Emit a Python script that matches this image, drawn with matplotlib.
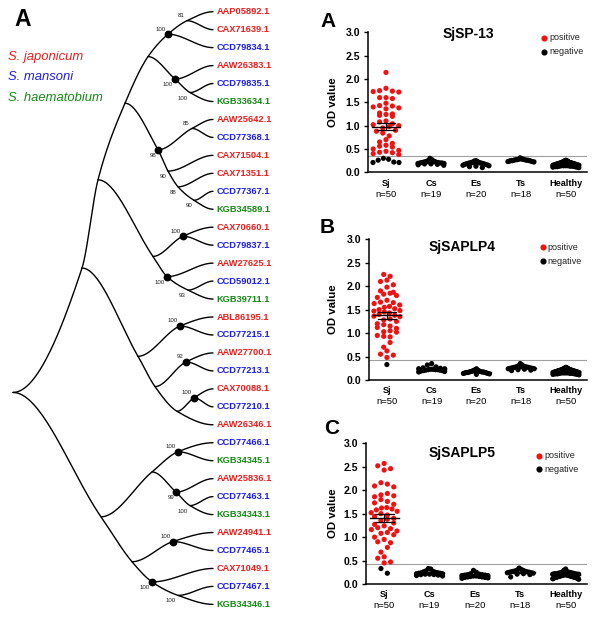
import numpy as np
import matplotlib
matplotlib.use("Agg")
import matplotlib.pyplot as plt
from matplotlib.lines import Line2D

plt.rcParams['font.family'] = ['Liberation Sans', 'DejaVu Sans']

# ---------------- data ----------------
SPECIES = ["S. japonicum", "S. mansoni", "S. haematobium"]
SPECIES_COLORS = ["#f01c1c", "#1c1cf0", "#138a13"]
PREFIX_SPECIES = {"AAP": 0, "AAW": 0, "ABL": 0, "CAX": 0, "CCD": 1, "KGB": 2}

# node = (bootstrap, height (0 = tips, 1 = root), marked, children); leaf = accession
TREE = (None, 1.00, False, [
    (None, 0.655, False, [
        (None, 0.575, False, [
            (None, 0.44, False, [
                (None, 0.325, False, [
                    ("100", 0.225, True, [("81", 0.13, False, ["AAP05892.1", "CAX71639.1"]), "CCD79834.1"]),
                    ("100", 0.19, True, ["AAW26383.1", ("100", 0.115, False, ["CCD79835.1", "KGB33634.1"])]),
                ]),
                ("98", 0.275, True, [
                    ("85", 0.105, False, ["AAW25642.1", "CCD77368.1"]),
                    ("90", 0.225, False, ["CAX71504.1",
                                          ("88", 0.175, False, ["CAX71351.1",
                                                                ("90", 0.095, False, ["CCD77367.1", "KGB34589.1"])])]),
                ]),
            ]),
            (None, 0.30, False, [
                ("100", 0.15, True, ["CAX70660.1", "CCD79837.1"]),
                ("100", 0.23, True, ["AAW27625.1", ("93", 0.125, False, ["CCD59012.1", "KGB39711.1"])]),
            ]),
        ]),
        (None, 0.375, False, [
            ("100", 0.165, True, ["ABL86195.1", "CCD77215.1"]),
            (None, 0.29, False, [
                ("92", 0.135, True, ["AAW27700.1", "CCD77213.1"]),
                (None, 0.18, False, [
                    ("100", 0.095, True, ["CAX70088.1", "CCD77210.1"]),
                    "AAW26346.1",
                ]),
            ]),
        ]),
    ]),
    (None, 0.56, False, [
        (None, 0.305, False, [
            ("100", 0.175, True, ["CCD77466.1", "KGB34345.1"]),
            ("99", 0.185, True, ["AAW25836.1", ("100", 0.115, False, ["CCD77463.1", "KGB34343.1"])]),
        ]),
        (None, 0.405, False, [
            ("100", 0.20, True, ["AAW24941.1", "CCD77465.1"]),
            ("100", 0.305, True, ["CAX71049.1", ("100", 0.175, False, ["CCD77467.1", "KGB34346.1"])]),
        ]),
    ]),
])

GROUPS = ["Sj", "Cs", "Es", "Ts", "Healthy"]
GROUP_N = [50, 19, 20, 18, 50]
PANEL_LETTERS = ["A", "B", "C"]
ANTIGENS = ["SjSP-13", "SjSAPLP4", "SjSAPLP5"]
CUTOFFS = [0.356, 0.425, 0.42]

SJ_A = [2.14, 1.80, 1.75, 1.74, 1.73, 1.72, 1.60, 1.58, 1.60, 1.48, 1.43, 1.42, 1.40, 1.38, 1.36,
        1.27, 1.25, 1.24, 1.22, 1.20, 1.10, 1.08, 1.04, 1.02, 1.00, 0.98, 0.95, 0.90, 0.88, 0.84,
        0.78, 0.70, 0.65, 0.62, 0.58, 0.56, 0.54, 0.50, 0.47, 0.45, 0.43, 0.42, 0.40, 0.38,
        0.30, 0.28, 0.26, 0.22, 0.21, 0.21]
CS_A = [0.30, 0.27, 0.25, 0.24, 0.23, 0.22, 0.22, 0.21, 0.21, 0.20, 0.20, 0.20, 0.19, 0.19, 0.18,
        0.18, 0.17, 0.16, 0.15]
ES_A = [0.25, 0.24, 0.23, 0.22, 0.21, 0.21, 0.20, 0.20, 0.19, 0.19, 0.18, 0.18, 0.17, 0.17, 0.16,
        0.15, 0.14, 0.13, 0.12, 0.10]
TS_A = [0.31, 0.29, 0.28, 0.28, 0.27, 0.27, 0.27, 0.26, 0.26, 0.26, 0.25, 0.25, 0.25, 0.24, 0.24,
        0.23, 0.23, 0.22]
HE_A = [0.26, 0.25, 0.25, 0.24, 0.24, 0.23, 0.23, 0.22, 0.22, 0.22, 0.21, 0.21, 0.21, 0.20, 0.20,
        0.20, 0.20, 0.19, 0.19, 0.19, 0.19, 0.18, 0.18, 0.18, 0.18, 0.17, 0.17, 0.17, 0.17, 0.16,
        0.16, 0.16, 0.16, 0.15, 0.15, 0.15, 0.15, 0.14, 0.14, 0.14, 0.14, 0.13, 0.13, 0.13, 0.12,
        0.12, 0.12, 0.11, 0.11, 0.10]

SJ_B = [2.25, 2.21, 2.13, 2.10, 2.03, 1.98, 1.90, 1.87, 1.85, 1.83, 1.80, 1.76, 1.70, 1.66, 1.65,
        1.63, 1.60, 1.57, 1.55, 1.52, 1.50, 1.48, 1.47, 1.45, 1.43, 1.40, 1.38, 1.36, 1.35, 1.30,
        1.28, 1.25, 1.20, 1.18, 1.15, 1.12, 1.10, 1.05, 1.03, 1.02, 0.95, 0.93, 0.92, 0.80, 0.70,
        0.62, 0.55, 0.53, 0.48, 0.33]
CS_B = [0.35, 0.32, 0.28, 0.26, 0.25, 0.24, 0.24, 0.23, 0.23, 0.22, 0.22, 0.22, 0.21, 0.21, 0.20,
        0.20, 0.19, 0.18, 0.17]
ES_B = [0.24, 0.22, 0.21, 0.20, 0.19, 0.19, 0.18, 0.18, 0.17, 0.17, 0.17, 0.16, 0.16, 0.16, 0.15,
        0.15, 0.14, 0.14, 0.13, 0.12]
TS_B = [0.35, 0.32, 0.30, 0.29, 0.28, 0.28, 0.27, 0.27, 0.26, 0.26, 0.25, 0.25, 0.24, 0.24, 0.23,
        0.22, 0.21, 0.20]
HE_B = [0.27, 0.26, 0.26, 0.25, 0.25, 0.24, 0.24, 0.23, 0.23, 0.23, 0.22, 0.22, 0.22, 0.21, 0.21,
        0.21, 0.21, 0.20, 0.20, 0.20, 0.20, 0.19, 0.19, 0.19, 0.19, 0.18, 0.18, 0.18, 0.18, 0.17,
        0.17, 0.17, 0.17, 0.16, 0.16, 0.16, 0.16, 0.15, 0.15, 0.15, 0.15, 0.14, 0.14, 0.14, 0.13,
        0.13, 0.13, 0.12, 0.12, 0.11]

SJ_C = [2.57, 2.52, 2.46, 2.43, 2.16, 2.13, 2.09, 2.07, 1.93, 1.90, 1.88, 1.86, 1.80, 1.76, 1.73,
        1.70, 1.63, 1.62, 1.60, 1.58, 1.55, 1.52, 1.50, 1.47, 1.44, 1.40, 1.38, 1.35, 1.30, 1.27,
        1.24, 1.20, 1.18, 1.16, 1.13, 1.10, 1.08, 1.05, 1.00, 0.95, 0.90, 0.88, 0.78, 0.68, 0.58,
        0.55, 0.47, 0.45, 0.33, 0.23]
CS_C = [0.33, 0.32, 0.28, 0.27, 0.26, 0.25, 0.24, 0.24, 0.23, 0.23, 0.22, 0.22, 0.21, 0.21, 0.20,
        0.20, 0.19, 0.18, 0.17]
ES_C = [0.29, 0.25, 0.22, 0.21, 0.20, 0.20, 0.19, 0.19, 0.18, 0.18, 0.17, 0.17, 0.16, 0.16, 0.15,
        0.15, 0.14, 0.14, 0.13, 0.12]
TS_C = [0.34, 0.31, 0.30, 0.29, 0.28, 0.27, 0.27, 0.26, 0.26, 0.25, 0.25, 0.24, 0.24, 0.23, 0.22,
        0.21, 0.20, 0.15]
HE_C = [0.32, 0.29, 0.26, 0.25, 0.25, 0.24, 0.24, 0.23, 0.23, 0.22, 0.22, 0.22, 0.21, 0.21, 0.21,
        0.20, 0.20, 0.20, 0.20, 0.19, 0.19, 0.19, 0.19, 0.18, 0.18, 0.18, 0.18, 0.17, 0.17, 0.17,
        0.17, 0.16, 0.16, 0.16, 0.16, 0.15, 0.15, 0.15, 0.15, 0.14, 0.14, 0.14, 0.14, 0.13, 0.13,
        0.13, 0.12, 0.12, 0.11, 0.10]

PANEL_DATA = [[SJ_A, CS_A, ES_A, TS_A, HE_A],
              [SJ_B, CS_B, ES_B, TS_B, HE_B],
              [SJ_C, CS_C, ES_C, TS_C, HE_C]]

# ---------------- figure ----------------
W, H = 600, 623
fig = plt.figure(figsize=(W / 100, H / 100), dpi=100)

def fx(x):
    return x / W

def fy(y):
    return 1 - y / H

# ================= tree =================
axT = fig.add_axes([0, 0, 0.5, 1])
axT.set_xlim(0, 300)
axT.set_ylim(H, 0)
axT.axis('off')

TIP_X, ROOT_X = 213.0, 13.0
LEAF_Y0, LEAF_DY = 11.7, 17.96


class Nd:
    def __init__(self, name=None, support=None, height=0.0, dot=False):
        self.name, self.support, self.height, self.dot = name, support, height, dot
        self.children = []
        self.parent = None


def build(t):
    if isinstance(t, str):
        return Nd(name=t)
    sup, h, dot, ch = t
    n = Nd(support=sup, height=h, dot=dot)
    n.children = [build(c) for c in ch]
    for c in n.children:
        c.parent = n
    return n


root = build(TREE)
leaves = []
internals = []


def assign(n):
    if n.name:
        n.x = TIP_X
        n.y = LEAF_Y0 + len(leaves) * LEAF_DY
        leaves.append(n)
    else:
        for c in n.children:
            assign(c)
        n.x = TIP_X - n.height * (TIP_X - ROOT_X)
        n.y = float(np.mean([c.y for c in n.children]))
        internals.append(n)


assign(root)

paths = []


def trace(parent, child):
    path = [parent, child]
    up = child.y < parent.y
    cur = child
    while cur.children:
        nxt = min(cur.children, key=lambda c: c.y) if up else max(cur.children, key=lambda c: c.y)
        for o in cur.children:
            if o is not nxt:
                trace(cur, o)
        path.append(nxt)
        cur = nxt
    paths.append(path)


for c in root.children:
    trace(root, c)


def smooth_path(xs, ys, m=40):
    xs = np.asarray(xs, float)
    ys = np.asarray(ys, float)
    n = len(xs)
    h = np.diff(xs)
    dl = np.diff(ys) / h
    d = np.zeros(n)
    for k in range(1, n - 1):
        if dl[k - 1] * dl[k] > 0:
            w1 = 2 * h[k] + h[k - 1]
            w2 = h[k] + 2 * h[k - 1]
            d[k] = (w1 + w2) / (w1 / dl[k - 1] + w2 / dl[k])
    X, Y = [], []
    t = np.linspace(0, 1, m)
    h00 = 2 * t**3 - 3 * t**2 + 1
    h10 = t**3 - 2 * t**2 + t
    h01 = -2 * t**3 + 3 * t**2
    h11 = t**3 - t**2
    for k in range(n - 1):
        X.append(xs[k] + t * h[k])
        Y.append(h00 * ys[k] + h10 * h[k] * d[k] + h01 * ys[k + 1] + h11 * h[k] * d[k + 1])
    return np.concatenate(X), np.concatenate(Y)


for p in paths:
    X, Y = smooth_path([q.x for q in p], [q.y for q in p])
    axT.plot(X, Y, color='black', lw=1.0, solid_capstyle='round', zorder=2)

for n in internals:
    if n.dot:
        axT.plot(n.x, n.y, 'o', color='black', ms=4.6, zorder=3)
    if n.support:
        if n.y < n.parent.y:
            axT.text(n.x - 2.5, n.y - 5.0, n.support, ha='right', va='center', fontsize=4.4, color='#222222')
        else:
            axT.text(n.x - 2.0, n.y + 5.5, n.support, ha='right', va='center', fontsize=4.4, color='#222222')

for lf in leaves:
    col = SPECIES_COLORS[PREFIX_SPECIES[lf.name[:3]]]
    axT.text(lf.x + 3.5, lf.y, lf.name, ha='left', va='center', fontsize=6.7,
             fontweight='bold', color=col)

for i, (sp, col) in enumerate(zip(SPECIES, SPECIES_COLORS)):
    axT.text(8, 57 + i * 20.5, sp, ha='left', va='center', fontsize=9.4, style='italic', color=col)

fig.text(fx(23), fy(19), "A", ha='center', va='center', fontsize=16.5, fontweight='bold')

# ================= dot plots =================
PANEL_BOX = [(368, 32.3, 587, 172.3), (369, 239.3, 587, 380.0), (366, 443.3, 587, 584.0)]
TITLE_POS = [(468, 34.3), (462, 247.0), (462, 452.7)]
LETTER_POS = [(328, 21.5), (327, 228), (332, 428)]
LEGEND_POS = [(544, 38, 52), (542.7, 247.3, 261), (539, 455.7, 469.3)]
XMIN, XMAX = -0.4, 4.47
ROW_H = 5.2      # px height of a scatter row
COL_GAP = 6.4    # px horizontal spacing of points in a row
HALF_W = 13.0    # px maximum half-width of a column
RED = "#f21010"


def row_scatter(vals, sx, sy):
    """Prism-style column scatter: points of similar value share a row and are spread sideways."""
    vals = np.asarray(vals, float)
    order = np.argsort(-vals, kind='stable')
    offs = np.zeros(len(vals))
    rows = []
    cur = []
    top = None
    for i in order:
        y = vals[i] * sy
        if top is None or top - y < ROW_H:
            if top is None:
                top = y
            cur.append(i)
        else:
            rows.append(cur)
            cur = [i]
            top = y
    if cur:
        rows.append(cur)
    for ri, rw in enumerate(rows):
        n = len(rw)
        if n == 1:
            offs[rw[0]] = 0.0
            continue
        gap = min(COL_GAP, 2 * HALF_W / (n - 1))
        pos = (np.arange(n) - (n - 1) / 2.0) * gap
        if n % 2 == 0 and ri % 2 == 1:
            pos = pos[::-1]
        # interleave so neighbouring values alternate sides
        idx = sorted(range(n), key=lambda j: abs(pos[j]))
        for j, i in enumerate(rw):
            offs[i] = pos[idx[j]]
    return offs / sx


for k in range(3):
    l, t, r, b = PANEL_BOX[k]
    ax = fig.add_axes([fx(l), fy(b), fx(r - l), (b - t) / H])
    ax.set_xlim(XMIN, XMAX)
    ax.set_ylim(0, 3.0)
    sx = (r - l) / (XMAX - XMIN)
    sy = (b - t) / 3.0
    cut = CUTOFFS[k]
    for gi, vals in enumerate(PANEL_DATA[k]):
        v = np.asarray(vals, float)
        offs = row_scatter(v, sx, sy)
        cols = np.where(v > cut, RED, 'black')
        ax.scatter(gi + offs, v, s=14, c=cols, linewidths=0, zorder=2, clip_on=False)
        m = v.mean()
        se = v.std(ddof=1) / np.sqrt(len(v))
        ax.plot([gi - 0.32, gi + 0.32], [m, m], color='black', lw=1.0, zorder=4)
        ax.plot([gi - 0.21, gi + 0.21], [m + se, m + se], color='black', lw=0.9, zorder=4)
        ax.plot([gi - 0.21, gi + 0.21], [m - se, m - se], color='black', lw=0.9, zorder=4)
        ax.plot([gi, gi], [m - se, m + se], color='black', lw=0.9, zorder=4)
        ax.annotate(GROUPS[gi], xy=(gi, 0), xycoords=ax.get_xaxis_transform(), xytext=(0, -7.8),
                    textcoords='offset points', ha='center', va='center', fontsize=6.6, fontweight='bold')
        ax.annotate("n=%d" % GROUP_N[gi], xy=(gi, 0), xycoords=ax.get_xaxis_transform(),
                    xytext=(0, -15.8), textcoords='offset points', ha='center', va='center', fontsize=6.8)
    ax.axhline(cut, color='#a0a0a0', lw=0.8, zorder=1)
    for s in ['top', 'right']:
        ax.spines[s].set_visible(False)
    for s in ['left', 'bottom']:
        ax.spines[s].set_linewidth(1.1)
    ax.set_xticks(range(5))
    ax.set_xticklabels([])
    ax.tick_params(axis='x', length=0)
    ax.set_yticks(np.arange(0, 3.01, 0.5))
    ax.set_yticklabels(["%.1f" % v for v in np.arange(0, 3.01, 0.5)], fontsize=7.6, fontweight='bold')
    ax.tick_params(axis='y', direction='out', length=3, width=1.0, pad=2.5)
    ax.text((333 - l) / (r - l), 0.5, "OD value", transform=ax.transAxes, rotation=90,
            ha='center', va='center', fontsize=8.2, fontweight='bold')
    tx, ty = TITLE_POS[k]
    fig.text(fx(tx), fy(ty), ANTIGENS[k], ha='center', va='center', fontsize=10, fontweight='bold')
    lx, ly1, ly2 = LEGEND_POS[k]
    for yy, lab, col in [(ly1, "positive", RED), (ly2, "negative", 'black')]:
        fig.add_artist(Line2D([fx(lx)], [fy(yy)], marker='o', ms=3.4, color=col, ls='',
                              transform=fig.transFigure))
        fig.text(fx(lx + 5), fy(yy), lab, ha='left', va='center', fontsize=6.5, color='#222222')
    px_, py_ = LETTER_POS[k]
    fig.text(fx(px_), fy(py_), PANEL_LETTERS[k], ha='center', va='center', fontsize=15, fontweight='bold')

fig.savefig("out.png", dpi=100)
